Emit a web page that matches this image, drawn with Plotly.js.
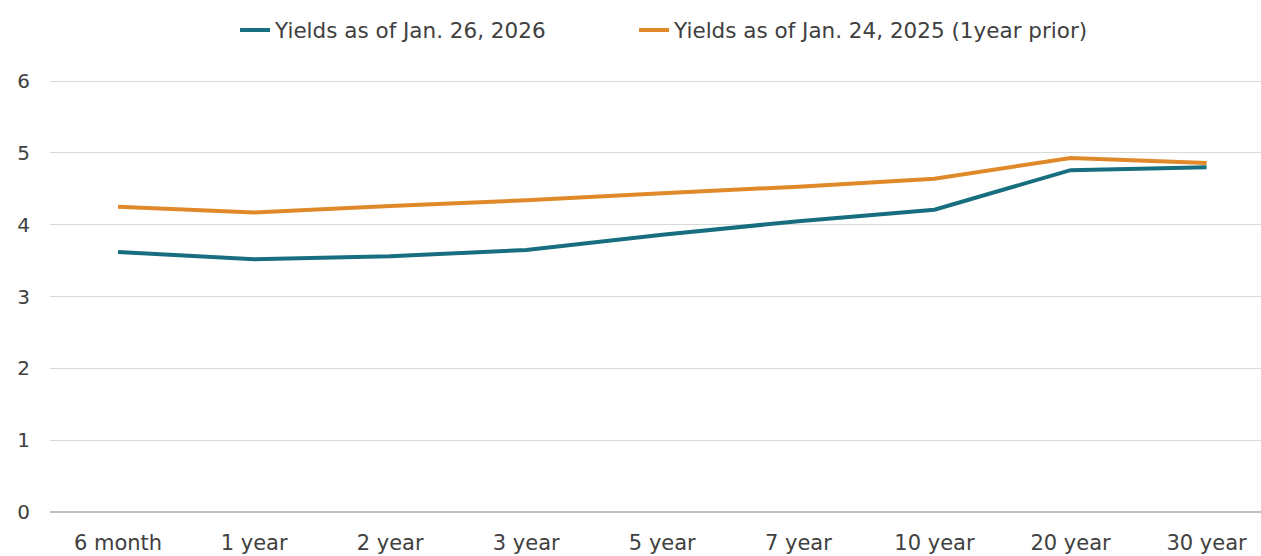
<!DOCTYPE html>
<html>
<head>
<meta charset="utf-8">
<script src="https://cdn.plot.ly/plotly-3.0.1.min.js"></script>
<style>
  html, body { margin: 0; padding: 0; background: #ffffff; }
  #chart { width: 1261px; height: 556px; }
</style>
</head>
<body>
<div id="chart"></div>
<script>
const maturities = ["6 month", "1 year", "2 year", "3 year", "5 year", "7 year", "10 year", "20 year", "30 year"];
const yields2026 = [3.62, 3.52, 3.56, 3.65, 3.86, 4.05, 4.21, 4.76, 4.80];
const yields2025 = [4.25, 4.17, 4.26, 4.34, 4.44, 4.53, 4.64, 4.93, 4.86];
const seriesNames = ["Yields as of Jan. 26, 2026", "Yields as of Jan. 24, 2025 (1year prior)"];
const yTicks = [0, 1, 2, 3, 4, 5, 6];

const fontFamily = "DejaVu Sans, Verdana, sans-serif";
const textColor = "#404040";

const traces = [
  {
    x: maturities, y: yields2026, name: seriesNames[0],
    type: "scatter", mode: "lines", legend: "legend",
    line: { color: "#176e7f", width: 4 }
  },
  {
    x: maturities, y: yields2025, name: seriesNames[1],
    type: "scatter", mode: "lines", legend: "legend2",
    line: { color: "#e0892a", width: 4 }
  }
];

function legendAt(xPos) {
  return {
    orientation: "h", x: xPos, xanchor: "left", xref: "paper",
    yref: "container", y: 0.946, yanchor: "middle",
    font: { family: fontFamily, size: 21.5, color: textColor },
    itemwidth: 30, bgcolor: "rgba(0,0,0,0)"
  };
}

const layout = {
  width: 1261, height: 556,
  paper_bgcolor: "#ffffff", plot_bgcolor: "#ffffff",
  margin: { l: 50, r: 0, t: 79, b: 44 },
  font: { family: fontFamily, size: 21, color: textColor },
  showlegend: true,
  legend: legendAt(0.1528),
  legend2: legendAt(0.4823),
  xaxis: {
    type: "category", range: [-0.5, 8.4],
    showgrid: false, zeroline: false, showline: false,
    ticks: "", ticklabelstandoff: 16,
    tickfont: { size: 21, color: textColor },
    fixedrange: true
  },
  yaxis: {
    range: [0, 6.03], tickvals: yTicks, ticktext: yTicks.map(String),
    showgrid: true, gridcolor: "#d9d9d9", gridwidth: 1,
    zeroline: true, zerolinecolor: "#bfbfbf", zerolinewidth: 1.5,
    showline: false, ticks: "", ticklabelstandoff: 19,
    tickfont: { size: 20, color: textColor },
    fixedrange: true
  }
};

Plotly.newPlot("chart", traces, layout, { displayModeBar: false, staticPlot: true });
</script>
</body>
</html>
